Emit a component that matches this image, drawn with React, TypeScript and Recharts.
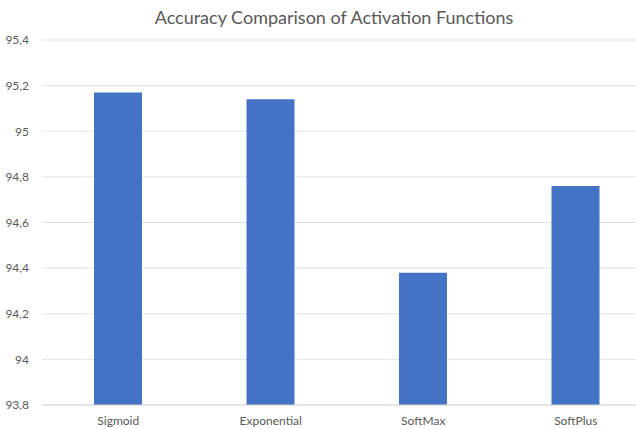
import React from "react";
import { BarChart, Bar, XAxis, YAxis, CartesianGrid } from "recharts";

const categories = ["Sigmoid", "Exponential", "SoftMax", "SoftPlus"];
const accuracy = [95.17, 95.14, 94.38, 94.76];
const yTicks = [93.8, 94, 94.2, 94.4, 94.6, 94.8, 95, 95.2, 95.4];
const title = "Accuracy Comparison of Activation Functions";

const data = categories.map((name, i) => ({ name, value: accuracy[i] }));

const fontFamily = "Lato, 'Open Sans', sans-serif";

export default function App() {
  return (
    <div
      style={{
        position: "fixed",
        left: 0,
        top: 0,
        width: 636,
        height: 429,
        overflow: "hidden",
        background: "#ffffff",
        fontFamily,
      }}
    >
      <div
        style={{
          position: "absolute",
          left: 0,
          top: 6,
          width: 668,
          textAlign: "center",
          fontSize: 18,
          color: "#595959",
          lineHeight: "22px",
        }}
      >
        {title}
      </div>
      <div style={{ position: "absolute", left: 0, top: 0 }}>
        <BarChart
          width={660}
          height={429}
          data={data}
          margin={{ top: 40, right: 8, bottom: 0, left: 0 }}
        >
          <CartesianGrid vertical={false} stroke="#e3e3e3" strokeWidth={1} />
          <XAxis
            dataKey="name"
            height={24}
            tickSize={0}
            tickMargin={11}
            axisLine={{ stroke: "#d9d9d9" }}
            tickLine={false}
            tick={{ fill: "#595959", fontSize: 12, fontFamily }}
            interval={0}
          />
          <YAxis
            width={42}
            domain={[93.8, 95.4]}
            ticks={yTicks}
            allowDataOverflow
            axisLine={false}
            tickLine={false}
            tickSize={0}
            tickMargin={13}
            tick={{ fill: "#595959", fontSize: 12, fontFamily }}
            tickFormatter={(v: number) => String(v).replace(".", ",")}
          />
          <Bar dataKey="value" fill="#4472C4" barSize={48} isAnimationActive={false} />
        </BarChart>
      </div>
    </div>
  );
}
